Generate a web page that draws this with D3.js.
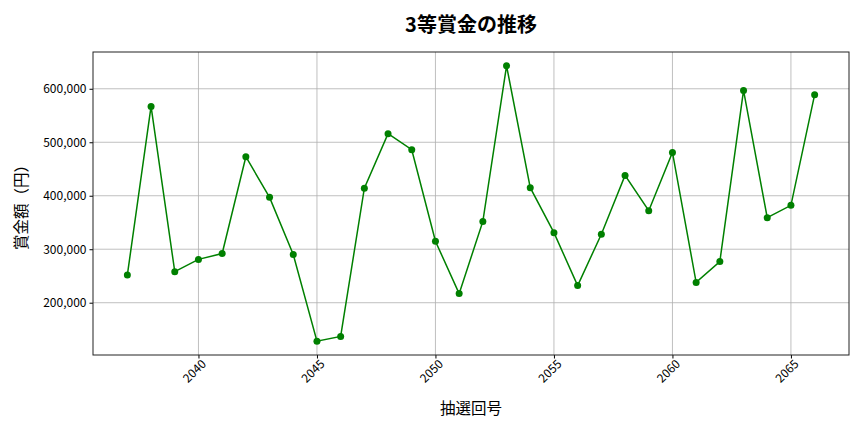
<!DOCTYPE html>
<html>
<head>
<meta charset="utf-8">
<script src="https://cdn.jsdelivr.net/npm/d3@7"></script>
<style>
  body { margin: 0; background: #fff; }
  svg, svg text { font-family: "Noto Sans CJK JP", "Noto Sans", sans-serif; }
</style>
</head>
<body>
<div id="chart"></div>
<script>
// 抽選回 and 3等賞金
let draws = [2037, 2038, 2039, 2040, 2041, 2042, 2043, 2044, 2045, 2046,
             2047, 2048, 2049, 2050, 2051, 2052, 2053, 2054, 2055, 2056,
             2057, 2058, 2059, 2060, 2061, 2062, 2063, 2064, 2065, 2066];
let prizes = [252000, 567000, 258000, 281000, 292000, 473000, 397000, 290000, 128000, 137000,
              414000, 516000, 486000, 315000, 217000, 352000, 643000, 415000, 331000, 232000,
              328000, 438000, 372000, 481000, 238000, 277000, 597000, 359000, 382000, 589000];
let xTicks = [2040, 2045, 2050, 2055, 2060, 2065];
let yTicks = [200000, 300000, 400000, 500000, 600000];

let width = 864, height = 432;
let margin = {top: 52, right: 15, bottom: 77, left: 93};
let innerW = width - margin.left - margin.right;
let innerH = height - margin.top - margin.bottom;

let svg = d3.select('#chart').append('svg')
  .attr('width', width).attr('height', height);

// matplotlib style 5% padding
let xMin = d3.min(draws), xMax = d3.max(draws);
let xPad = (xMax - xMin) * 0.05;
let yMin = d3.min(prizes), yMax = d3.max(prizes);
let yPad = (yMax - yMin) * 0.05;

let x = d3.scaleLinear().domain([xMin - xPad, xMax + xPad]).range([0, innerW]);
let y = d3.scaleLinear().domain([yMin - yPad, yMax + yPad]).range([innerH, 0]);

let g = svg.append('g').attr('transform', `translate(${margin.left},${margin.top})`);

// grid
g.append('g').selectAll('line.gx')
  .data(xTicks).enter().append('line')
  .attr('x1', d => x(d)).attr('x2', d => x(d))
  .attr('y1', 0).attr('y2', innerH)
  .style('stroke', '#b0b0b0').style('stroke-width', 0.8);
g.append('g').selectAll('line.gy')
  .data(yTicks).enter().append('line')
  .attr('x1', 0).attr('x2', innerW)
  .attr('y1', d => y(d)).attr('y2', d => y(d))
  .style('stroke', '#b0b0b0').style('stroke-width', 0.8);

// axes
let xAxis = g.append('g').attr('transform', `translate(0,${innerH})`)
  .call(d3.axisBottom(x).tickValues(xTicks).tickFormat(d3.format('d')).tickSize(3.5));
xAxis.attr('font-family', null);
xAxis.selectAll('text')
  .attr('transform', 'rotate(-45)')
  .style('text-anchor', 'end')
  .attr('dx', '-0.1em').attr('dy', '0.5em')
  .style('font-size', '12px').style('fill', '#000');

let yAxis = g.append('g')
  .call(d3.axisLeft(y).tickValues(yTicks).tickFormat(d3.format(',')).tickSize(3.5));
yAxis.attr('font-family', null);
yAxis.selectAll('text').style('font-size', '12px').style('fill', '#000');

svg.selectAll('.domain').remove();
g.append('rect').attr('width', innerW).attr('height', innerH)
  .style('fill', 'none').style('stroke', '#222').style('stroke-width', 1);

// line + markers
let line = d3.line().x((d, i) => x(draws[i])).y(d => y(d));
g.append('path').datum(prizes)
  .attr('d', line)
  .style('fill', 'none').style('stroke', 'green').style('stroke-width', 1.5);
g.selectAll('circle').data(prizes).enter().append('circle')
  .attr('cx', (d, i) => x(draws[i])).attr('cy', d => y(d))
  .attr('r', 3.5).style('fill', 'green');

// titles
svg.append('text')
  .attr('x', margin.left + innerW / 2).attr('y', 32)
  .attr('text-anchor', 'middle')
  .style('font-size', '20px').style('font-weight', 'bold')
  .text('3等賞金の推移');
svg.append('text')
  .attr('x', margin.left + innerW / 2).attr('y', 414)
  .attr('text-anchor', 'middle')
  .style('font-size', '15.5px')
  .text('抽選回号');
svg.append('text')
  .attr('transform', `translate(27,${margin.top + innerH / 2}) rotate(-90)`)
  .attr('text-anchor', 'middle')
  .style('font-size', '15.5px')
  .text('賞金額（円）');
</script>
</body>
</html>
